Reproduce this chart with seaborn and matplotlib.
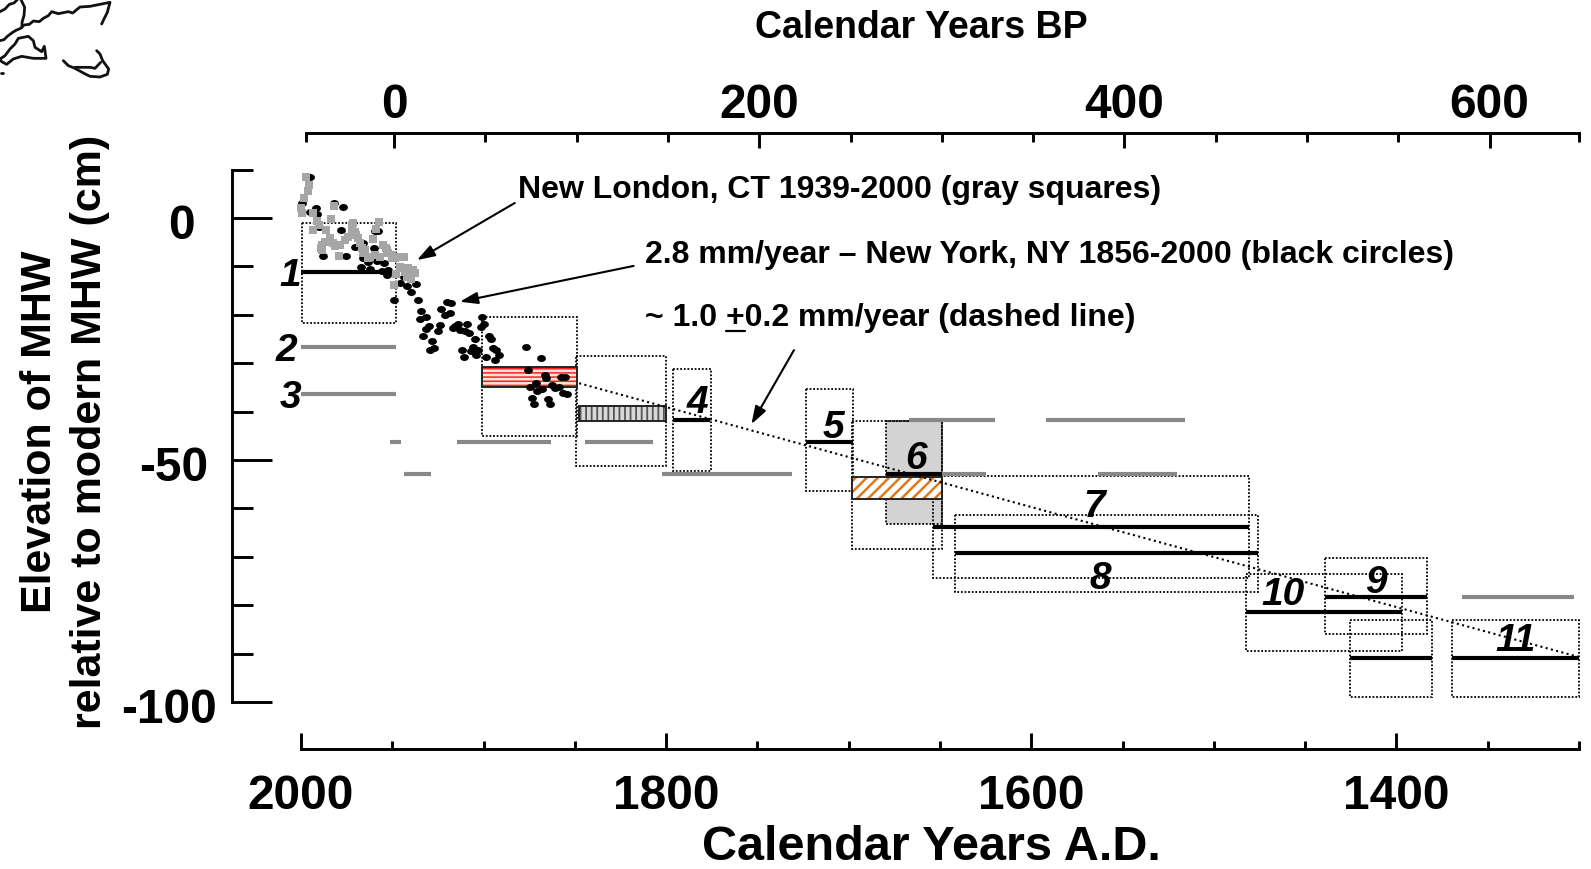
import numpy as np
import pandas as pd
import matplotlib
matplotlib.use("Agg")
import matplotlib.pyplot as plt
from matplotlib.patches import Rectangle
from matplotlib.lines import Line2D
from matplotlib.markers import MarkerStyle
from matplotlib.ticker import FixedLocator
from matplotlib.transforms import Affine2D, IdentityTransform, ScaledTranslation
import seaborn as sns

# ---- data -----
ny_year = [1995.1,1999.6,1992,1995.1,1991.1,1982,1977.2,1990,1978.3,1959.5,1957.7,1970.5,1966.3,1960.1,1987.8,1975.4,1965.9,1963.2,1958.3,1954.4,1967.2,1962.3,1955.9,1952.2,1953.1,1948.6,1943.7,1937.1,1945.9,1941.8,1940,1948.9,1935.8,1934,1931.8,1934.9,1923.1,1919.8,1917.6,1921.2,1918.5,
           1929.8,1931.3,1923.8,1925.1,1933.1,1928,1927.3,1929.1,1913.9,1915.8,1917,1913,1909,1910.3,1907.9,1900.6,1899.9,1901.5,1897,1895.7,1904.8,1911.8,1905.7,1903,1906.7,1910.7,1903.9,1898.8,1894.8,1893,1891.5,1893.9,1876.6,1868.5,1875.5,1866.5,1865.6,1857.4,1855.4,1871.5,1874.4,1862.7,1861,1858.7,1867.8,1870.5,1856.5,1854.3,1873.5,1864.7,1872.6,1863.6]
ny_mhw = [8.4,3.2,2.0,1.3,0.8,3.0,2.3,-1.8,-2.5,-2.7,-2.7,-5.9,-5.1,-6.3,-7.8,-7.8,-8.3,-9.0,-8.9,-9.2,-10.1,-10.6,-10.9,-10.7,-11.8,-11.4,-12.1,-13.7,-13.5,-14.1,-15.2,-16.9,-16.9,-19.2,-20.4,-20.9,-18.7,-17.4,-17.5,-20.0,-19.6,
          -22.4,-22.9,-22.1,-23.3,-24.4,-25.5,-26.9,-27.3,-21.8,-22.4,-22.8,-23.1,-21.8,-23.3,-23.7,-20.5,-21.8,-22.6,-24.4,-24.9,-25.1,-27.3,-26.7,-27.3,-27.5,-28.8,-28.4,-28.7,-26.9,-27.3,-28.4,-29.4,-26.7,-29,-31.5,-32.4,-33.1,-32.8,-32.8,-34,-34.9,-34.6,-35.1,-34.9,-35.3,-35.7,-36.2,-36.4,-37.1,-37.3,-38.5,-38.5]
nl_year = [1997.3,1995.5,1996,1998.4,2000,1999.6,1993.3,1991.1,1990,1982,1983.6,1993.6,1986.3,1971.7,1972.3,1957.2,1959,1960.4,1970.5,1974.1,1968.6,1975.9,1984.1,1986.9,1988.7,1988.7,1981.4,1978.7,1979,1966.8,1965.9,1963.2,1959.5,1955,1953.1,1950.4,1950.4,1946.8,1943.7,1945.9,1941.3,1937.6,1948.1,1942.2,1939.5,1949.1,
           1972.3,1969.9,1967.7,1965,1962.3,1956.8,1953.5,1952.2,1948.6,1944.4,1939.5,1943.1,1938.6,1989.3,1982.3]
nl_mhw = [8.4,6.8,5.6,4.1,2.0,1.0,1.0,-0.6,-1.5,2.5,-0.3,-2.5,-2.4,-1.1,-2.3,-0.9,-2.3,-4.3,-2.8,-3.9,-4.2,-4.6,-4.2,-4.9,-5.6,-6.6,-5.8,-5.6,-7.9,-6.3,-7.3,-8.3,-7.6,-5.6,-6.6,-7.6,-8.3,-8.1,-8.0,-10.1,-10.4,-11.4,-11.6,-12.1,-12.5,-13.9,
          -1.5,-3.5,-5.2,-6.6,-8,-8,-6.1,-7.3,-8.3,-10.4,-11.4,-11.1,-10.8,-6.1,-5.2]

box_x0 = [1999.5,1900.6,1849.2,1796,1723.4,1698.2,1654.1,1641.7,1482.5,1439.1,1425.2,1369.4]
box_x1 = [1948,1848.9,1800,1775.5,1697.9,1649,1480.5,1475.8,1397,1383.3,1380.4,1300]
box_y0 = [-1.0,-20.4,-28.5,-31.1,-35.4,-41.9,-53.3,-61.4,-73.6,-70.3,-83.1,-83.1]
box_y1 = [-21.7,-45,-51.2,-52.3,-56.5,-68.4,-74.3,-77.3,-89.5,-86,-98.9,-98.9]

gray_box = (1679.6, 1649, -41.9, -63.2)
red_band = (1900.6, 1848.9, -30.8, -34.9)
stripe_band = (1848, 1800.3, -38.8, -41.9)
orange_band = (1698.2, 1649, -53.5, -58.1)

black_y = [-11.2,-41.8,-46.2,-52.8,-63.8,-69.3,-78.2,-81.5,-90.9,-90.9]
black_x0 = [2000,1796,1723.4,1679.6,1654.1,1641.7,1439.1,1482.5,1425.2,1369.4]
black_x1 = [1951,1776,1697.9,1649,1480.5,1475.8,1383.3,1397,1380.4,1300]

gray_y = [-26.7,-36.4,-46.3,-46.3,-46.3,-52.9,-52.9,-41.8,-41.8,-52.8,-52.8,-78.2]
gray_x0 = [2000,2000,1951,1914.8,1844.6,1943.7,1802,1667.2,1592,1648.8,1563.5,1364.3]
gray_x1 = [1948,1948,1945.5,1862.9,1807.4,1928.9,1731,1620,1516,1624.7,1520.4,1302.5]

trend_year = [1848, 1300]
trend_mhw = [-34.1, -90.7]

site_labels = ["1","2","3","4","5","6","7","8","9","10","11"]
site_x = [2005.9,2008.1,2005.9,1782.7,1708.4,1662.9,1565.7,1562.4,1411.4,1461.9,1334.8]
site_y = [-11.8,-27.3,-36.9,-38,-43.1,-49.6,-59.5,-74.3,-75.1,-77.7,-87.1]

ad_major = [2000,1800,1600,1400]
ad_minor = [1950,1900,1850,1750,1700,1650,1550,1500,1450,1350,1300]
bp_major = [0,200,400,600]
bp_minor = [-48,50,100,150,250,300,350,450,500,550,649]
y_major = [0,-50,-100]
y_minor = [10,-10,-20,-30,-40,-60,-70,-80,-90]
y_ticklabels = ["0", "-50", "-100"]
y_label_shift_px = [-22, -9, 0]

# ---- style -----
sns.set_theme(style="white")
plt.rcParams["font.family"] = ["Liberation Sans", "DejaVu Sans"]
plt.rcParams["font.weight"] = "bold"
plt.rcParams["text.color"] = "black"
plt.rcParams["xtick.color"] = "black"
plt.rcParams["ytick.color"] = "black"
plt.rcParams["axes.labelcolor"] = "black"
plt.rcParams["hatch.linewidth"] = 1.2

W, H = 1591, 870
fig = plt.figure(figsize=(W/100, H/100), dpi=100, facecolor="white")
ax = fig.add_axes([301/W, 1-750/H, (1579-301)/W, (750-134)/H], facecolor="none")
ax.set_xlim(2000, 1300)
ax.set_ylim(-109.7, 17.56)

DOT = (0, (1, 1))
ax.add_patch(Rectangle((gray_box[0], gray_box[2]), gray_box[1]-gray_box[0], gray_box[3]-gray_box[2],
                       facecolor="#d3d3d3", edgecolor="black", lw=1.3, ls=DOT, zorder=1))
for x0, x1, y0, y1 in zip(box_x0, box_x1, box_y0, box_y1):
    ax.add_patch(Rectangle((x0, y0), x1-x0, y1-y0, fill=False, edgecolor="black",
                           lw=1.3, ls=DOT, zorder=2, clip_on=False))

ax.hlines(gray_y, gray_x0, gray_x1, color="#888888", lw=3, zorder=2)
ax.hlines(black_y, black_x0, black_x1, color="black", lw=3, zorder=3)

def band(b, face, hatch, hcol, hlw):
    x0, x1, y0, y1 = b
    with plt.rc_context({"hatch.linewidth": hlw}):
        p = Rectangle((x0, y0), x1-x0, y1-y0, facecolor=face, edgecolor=hcol, hatch=hatch, lw=0, zorder=3)
        ax.add_patch(p)
    if hasattr(p, "set_hatch_linewidth"):
        p.set_hatch_linewidth(hlw)
    ax.add_patch(Rectangle((x0, y0), x1-x0, y1-y0, fill=False, edgecolor="#222222", lw=1.4, zorder=3.1))
band(red_band, "#ffe0e0", "----", "#ff2020", 1.1)
band(stripe_band, "#d8d8d8", "|||", "#555555", 1.3)
band(orange_band, "white", "///", "#e0781a", 1.8)

sns.lineplot(x=trend_year, y=trend_mhw, ax=ax, color="black", lw=1.5, linestyle=(0, (1, 1.6)),
             zorder=4, errorbar=None, legend=False)

ellipse = MarkerStyle("o", transform=Affine2D().scale(1.2, 0.95))
sns.scatterplot(x=ny_year, y=ny_mhw, ax=ax, marker=ellipse, color="black", s=28, linewidth=0, zorder=5, clip_on=False)
sns.scatterplot(x=nl_year, y=nl_mhw, ax=ax, marker="s", color="#a6a6a6", s=32, linewidth=0, zorder=6, clip_on=False)

for lab, x, y in zip(site_labels, site_x, site_y):
    ax.text(x, y, lab, fontsize=28, style="italic", weight="bold", ha="center", va="center",
            color="black", zorder=7)

ANN = 23
ax.text(1881, 6.05, "New London, CT 1939-2000 (gray squares)", fontsize=ANN, ha="left", va="center", zorder=8)
ax.text(1811.6, -7.4, "2.8 mm/year \u2013 New York, NY 1856-2000 (black circles)", fontsize=ANN, ha="left", va="center", zorder=8)
rate = ax.text(1811.6, -20.4, "~ 1.0 +0.2 mm/year (dashed line)", fontsize=ANN, ha="left", va="center", zorder=8)
arrow = dict(arrowstyle="-|>,head_length=0.9,head_width=0.3", color="black", lw=1.5, shrinkA=0, shrinkB=0)
ax.annotate("", xy=(1936.5, -8.7), xytext=(1882.9, 3.1), arrowprops=arrow, zorder=8)
ax.annotate("", xy=(1913, -17.3), xytext=(1817.8, -9.9), arrowprops=arrow, zorder=8)
ax.annotate("", xy=(1753.3, -42.6), xytext=(1730, -27.3), arrowprops=arrow, zorder=8)

rend = fig.canvas.get_renderer()
def text_w(s):
    t = fig.text(0, 0, s, fontsize=ANN, weight="bold")
    w = t.get_window_extent(rend).width
    t.remove()
    return w
rb = rate.get_window_extent(rend)
u0 = rb.x0 + text_w("~ 1.0 ")
u1 = u0 + text_w("+")
uy = rb.y0 + 1
fig.add_artist(Line2D([u0, u1], [uy, uy], transform=IdentityTransform(), color="black", lw=1.6))

px = 72/100
AXW = 2.1
for s in ["top", "right"]:
    ax.spines[s].set_visible(False)
ax.spines["left"].set_position(("outward", 69*px))
ax.spines["left"].set_bounds(-100, 10)
ax.spines["bottom"].set_bounds(2000, 1300)
for s in ["left", "bottom"]:
    ax.spines[s].set_linewidth(AXW)
    ax.spines[s].set_color("black")
ax.xaxis.set_major_locator(FixedLocator(ad_major))
ax.xaxis.set_minor_locator(FixedLocator(ad_minor))
ax.yaxis.set_major_locator(FixedLocator(y_major))
ax.yaxis.set_minor_locator(FixedLocator(y_minor))
ax.set_xticklabels([str(v) for v in ad_major])
ax.set_yticklabels(y_ticklabels)
ax.tick_params(axis="x", which="major", direction="in", length=16*px, width=AXW, pad=24*px, labelsize=34.5, bottom=True)
ax.tick_params(axis="x", which="minor", direction="in", length=8*px, width=AXW, bottom=True)
ax.tick_params(axis="y", which="major", direction="in", length=40*px, width=AXW, pad=15*px, labelsize=34.5, left=True)
ax.tick_params(axis="y", which="minor", direction="in", length=21*px, width=AXW, left=True)
for lab, dx in zip(ax.get_yticklabels(), y_label_shift_px):
    lab.set_transform(lab.get_transform() + ScaledTranslation(dx/100, -2.2/100, fig.dpi_scale_trans))

ax2 = ax.twiny()
ax2.set_xlim(-51, 649)
ax2.set_facecolor("none")
for s in ["left", "right", "bottom"]:
    ax2.spines[s].set_visible(False)
ax2.spines["top"].set_bounds(-48, 649)
ax2.spines["top"].set_linewidth(AXW)
ax2.spines["top"].set_color("black")
ax2.xaxis.set_major_locator(FixedLocator(bp_major))
ax2.xaxis.set_minor_locator(FixedLocator(bp_minor))
ax2.set_xticklabels([str(v) for v in bp_major])
ax2.tick_params(axis="x", which="major", direction="in", length=15*px, width=AXW, pad=6*px, labelsize=34.5, top=True)
ax2.tick_params(axis="x", which="minor", direction="in", length=9*px, width=AXW, top=True)

fig.text(921/W, 1-28/H, "Calendar Years BP", fontsize=27, ha="center", va="center", weight="bold")
fig.text(931/W, 1-848/H, "Calendar Years A.D.", fontsize=35, ha="center", va="center", weight="bold")
fig.text(65/W, 1-432/H, "Elevation of MHW\nrelative to modern MHW (cm)", fontsize=31, rotation=90,
         ha="center", va="center", ma="center", weight="bold", linespacing=1.3)

# coast sketch, top-left corner
sketch = Affine2D().scale(1/3, -1/3).translate(0, H)
coast = [
    [(0,125),(12,122),(22,112),(38,100),(48,94),(62,88),(72,78),(88,76),(100,66),(118,68),(130,58),(145,50),(155,38),(175,44),(205,38),(218,42),(240,24),(270,22),(300,16),(330,10),(322,40),(312,60),(305,75)],
    [(0,38),(15,30),(28,16),(42,12),(52,2)],
    [(62,0),(74,25),(72,50),(66,70),(66,85)],
    [(0,180),(15,170),(30,150),(45,135),(55,118),(85,112),(100,125),(105,145),(125,158),(133,142),(138,178),(100,178),(65,172),(40,180),(20,196),(5,188),(0,180)],
    [(190,185),(205,200),(225,208),(250,222),(270,232),(300,234),(322,226),(326,210),(308,185),(300,165),(290,155)],
    [(225,205),(270,205),(285,208),(302,190)],
    [(2,222),(10,222)],
]
for seg in coast:
    xs, ys = zip(*seg)
    fig.add_artist(Line2D(xs, ys, transform=sketch, color="#111111", lw=2.0))

fig.savefig("out.png", dpi=100, facecolor="white")
